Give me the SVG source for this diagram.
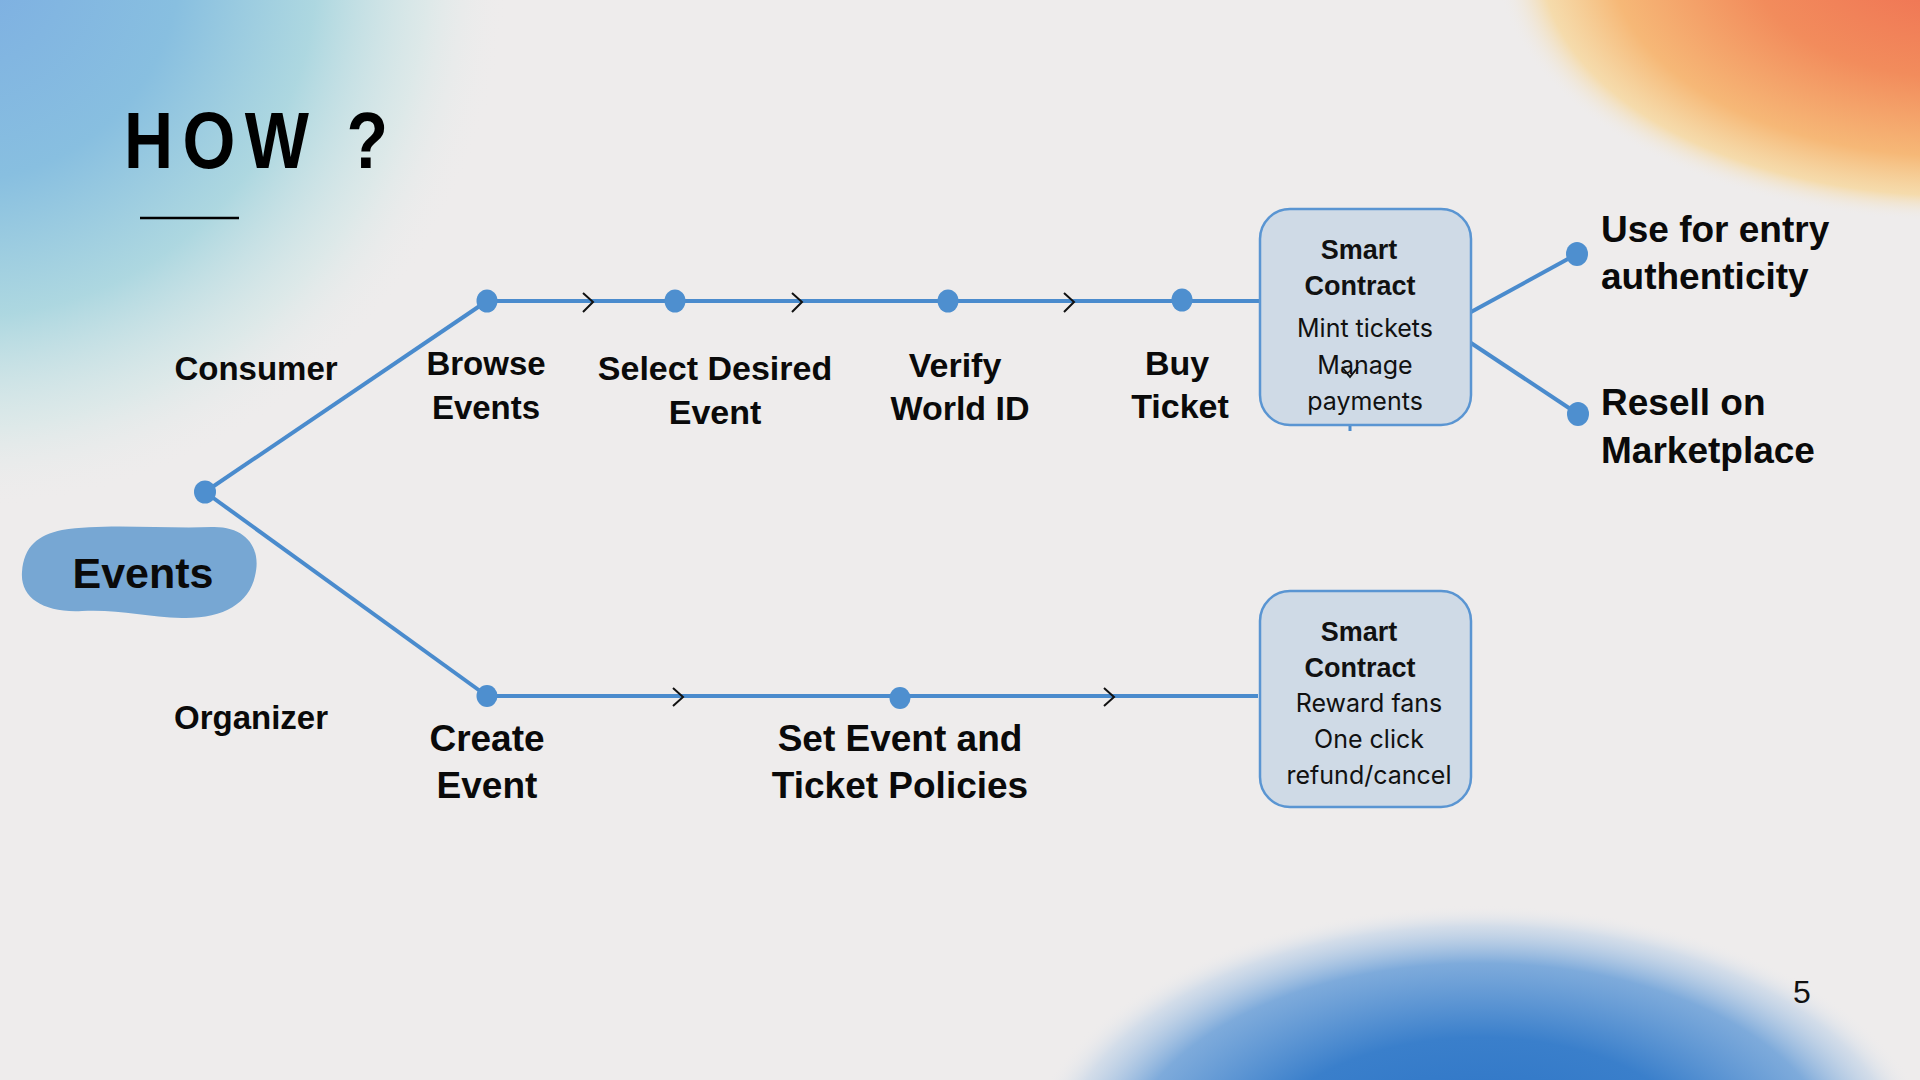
<svg xmlns="http://www.w3.org/2000/svg" width="1920" height="1080" viewBox="0 0 1920 1080">
  <defs>
    <radialGradient id="gTL" cx="-40" cy="-40" r="550" gradientUnits="userSpaceOnUse">
      <stop offset="0" stop-color="#7cade2"/>
      <stop offset="0.4" stop-color="#88bfe0"/>
      <stop offset="0.65" stop-color="#a6d5df" stop-opacity="0.9"/>
      <stop offset="0.85" stop-color="#cfe6e6" stop-opacity="0.55"/>
      <stop offset="1" stop-color="#eeecec" stop-opacity="0"/>
    </radialGradient>
    <radialGradient id="gTR" cx="0" cy="0" r="1" gradientUnits="userSpaceOnUse" gradientTransform="translate(1960,-40) scale(465,262)">
      <stop offset="0" stop-color="#ef6c52"/>
      <stop offset="0.45" stop-color="#f28c5c"/>
      <stop offset="0.75" stop-color="#f6b877"/>
      <stop offset="0.9" stop-color="#f7d79c" stop-opacity="0.8"/>
      <stop offset="1" stop-color="#eeecec" stop-opacity="0"/>
    </radialGradient>
    <radialGradient id="gBR" cx="0" cy="0" r="1" gradientUnits="userSpaceOnUse" gradientTransform="translate(1480,1170) scale(460,265)">
      <stop offset="0" stop-color="#2870c4"/>
      <stop offset="0.5" stop-color="#3a7fcb"/>
      <stop offset="0.78" stop-color="#6a9fd8" stop-opacity="0.85"/>
      <stop offset="0.92" stop-color="#b7cde6" stop-opacity="0.5"/>
      <stop offset="1" stop-color="#eeecec" stop-opacity="0"/>
    </radialGradient>
    <style>
      .line { stroke: #4a8bcd; stroke-width: 4; fill: none; }
      .dot { fill: #4e8fcf; }
      .chev { stroke: #111; stroke-width: 2; fill: none; }
      .lbl { font-family: "Liberation Sans", Arial, sans-serif; font-weight: bold; fill: #0a0a0a; text-anchor: middle; }
      .box { fill: #cfdae6; stroke: #5a95d2; stroke-width: 2.5; }
      .bt { font-family: "Liberation Sans", Arial, sans-serif; font-weight: bold; font-size: 27px; fill: #111; text-anchor: middle; }
      .br { font-family: Inter, "Noto Sans", sans-serif; font-size: 25px; fill: #111; text-anchor: middle; }
      .side { font-family: "Liberation Sans", Arial, sans-serif; font-weight: bold; font-size: 37px; fill: #0a0a0a; }
    </style>
  </defs>

  <rect width="1920" height="1080" fill="#eeecec"/>
  <rect width="1920" height="1080" fill="url(#gTL)"/>
  <rect width="1920" height="1080" fill="url(#gTR)"/>
  <rect width="1920" height="1080" fill="url(#gBR)"/>

  <g id="title">
    <text transform="translate(124,168) scale(0.85,1)" x="0" y="0" font-family="'Liberation Sans', Arial, sans-serif" font-weight="bold" font-size="80" letter-spacing="11" fill="#000">HOW ?</text>
    <line x1="140" y1="218" x2="239" y2="218" stroke="#000" stroke-width="2.5"/>
  </g>

  <g id="connectors">
    <line class="line" x1="205" y1="492" x2="487" y2="301"/>
    <line class="line" x1="205" y1="492" x2="487" y2="696"/>
    <line class="line" x1="487" y1="301" x2="1260" y2="301"/>
    <line class="line" x1="487" y1="696" x2="1258" y2="696"/>
    <line class="line" x1="1471" y1="312" x2="1577" y2="254"/>
    <line class="line" x1="1471" y1="343" x2="1578" y2="414"/>
    <line stroke="#4a8bcd" stroke-width="3" x1="1350" y1="424" x2="1350" y2="431"/>
    <polyline class="chev" points="583,293 593,302 583,312"/>
    <polyline class="chev" points="792,293 802,302 792,312"/>
    <polyline class="chev" points="1064,293 1074,302 1064,312"/>
    <polyline class="chev" points="673,688 683,697 673,706"/>
    <polyline class="chev" points="1104,688 1114,697 1104,706"/>
  </g>

  <g id="events">
    <path d="M 62,530 C 105,523 165,529 212,527 C 246,526 262,548 255,576 C 249,604 222,619 182,618 C 145,617 118,609 82,611 C 44,613 20,598 22,572 C 24,546 38,535 62,530 Z" fill="#77a7d3"/>
    <text class="lbl" x="143" y="588" font-size="43">Events</text>
  </g>

  <g id="root"><ellipse class="dot" cx="205" cy="492" rx="11" ry="11.5"/></g>

  <g id="consumer"><text class="lbl" x="256" y="380" font-size="33">Consumer</text></g>
  <g id="organizer"><text class="lbl" x="251" y="729" font-size="33">Organizer</text></g>

  <g id="browse">
    <ellipse class="dot" cx="487" cy="301" rx="10.5" ry="11.5"/>
    <text class="lbl" x="486" y="375" font-size="33">Browse</text>
    <text class="lbl" x="486" y="419" font-size="33">Events</text>
  </g>
  <g id="select">
    <ellipse class="dot" cx="675" cy="301" rx="10.5" ry="11.5"/>
    <text class="lbl" x="715" y="380" font-size="34">Select Desired</text>
    <text class="lbl" x="715" y="424" font-size="34">Event</text>
  </g>
  <g id="verify">
    <ellipse class="dot" cx="948" cy="301" rx="10.5" ry="11.5"/>
    <text class="lbl" x="955" y="377" font-size="34">Verify</text>
    <text class="lbl" x="960" y="420" font-size="34">World ID</text>
  </g>
  <g id="buy">
    <ellipse class="dot" cx="1182" cy="300" rx="10.5" ry="11.5"/>
    <text class="lbl" x="1177" y="375" font-size="34">Buy</text>
    <text class="lbl" x="1180" y="418" font-size="34">Ticket</text>
  </g>

  <g id="create">
    <ellipse class="dot" cx="487" cy="696" rx="10.5" ry="11"/>
    <text class="lbl" x="487" y="751" font-size="37">Create</text>
    <text class="lbl" x="487" y="798" font-size="37">Event</text>
  </g>
  <g id="policies">
    <ellipse class="dot" cx="900" cy="698" rx="10.5" ry="11"/>
    <text class="lbl" x="900" y="751" font-size="37">Set Event and</text>
    <text class="lbl" x="900" y="798" font-size="37">Ticket Policies</text>
  </g>

  <g id="contract-consumer">
    <rect class="box" x="1260" y="209" width="211" height="216" rx="30"/>
    <text class="bt" x="1359" y="259">Smart</text>
    <text class="bt" x="1360" y="295">Contract</text>
    <text class="br" x="1365" y="337">Mint tickets</text>
    <text class="br" x="1365" y="374">Manage</text>
    <text class="br" x="1365" y="410">payments</text>
    <polyline class="chev" stroke-width="1.6" points="1342,367 1350,377 1358,367"/>
  </g>

  <g id="contract-organizer">
    <rect class="box" x="1260" y="591" width="211" height="216" rx="30"/>
    <text class="bt" x="1359" y="641">Smart</text>
    <text class="bt" x="1360" y="677">Contract</text>
    <text class="br" x="1369" y="712">Reward fans</text>
    <text class="br" x="1369" y="748">One click</text>
    <text class="br" x="1369" y="784">refund/cancel</text>
  </g>

  <g id="entry">
    <ellipse class="dot" cx="1577" cy="254" rx="11" ry="12"/>
    <text class="side" x="1601" y="242">Use for entry</text>
    <text class="side" x="1601" y="289">authenticity</text>
  </g>
  <g id="resell">
    <ellipse class="dot" cx="1578" cy="414" rx="11" ry="12"/>
    <text class="side" x="1601" y="415">Resell on</text>
    <text class="side" x="1601" y="463">Marketplace</text>
  </g>

  <g id="page"><text x="1802" y="1003" font-family="'Liberation Sans', Arial, sans-serif" font-size="32" fill="#111" text-anchor="middle">5</text></g>
</svg>
